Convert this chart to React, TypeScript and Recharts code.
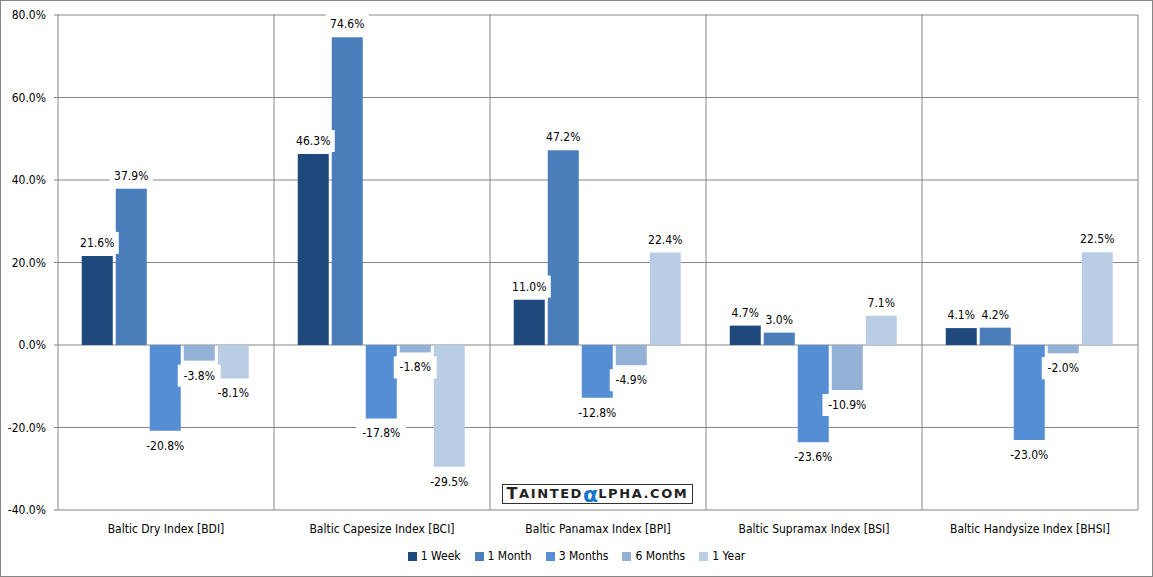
import React from 'react';
import { BarChart, Bar, XAxis, YAxis, CartesianGrid } from 'recharts';

const categories = [
  'Baltic Dry Index [BDI]',
  'Baltic Capesize Index [BCI]',
  'Baltic Panamax Index [BPI]',
  'Baltic Supramax Index [BSI]',
  'Baltic Handysize Index [BHSI]',
];
const week1 = [21.6, 46.3, 11.0, 4.7, 4.1];
const month1 = [37.9, 74.6, 47.2, 3.0, 4.2];
const months3 = [-20.8, -17.8, -12.8, -23.6, -23.0];
const months6 = [-3.8, -1.8, -4.9, -10.9, -2.0];
const year1 = [-8.1, -29.5, 22.4, 7.1, 22.5];
const yTicks = [-40, -20, 0, 20, 40, 60, 80];

const series = [
  { key: 'w1', name: '1 Week', color: '#1f497d', values: week1 },
  { key: 'm1', name: '1 Month', color: '#4a7ebb', values: month1 },
  { key: 'm3', name: '3 Months', color: '#558ed5', values: months3 },
  { key: 'm6', name: '6 Months', color: '#93b1d6', values: months6 },
  { key: 'y1', name: '1 Year', color: '#b9cde5', values: year1 },
];

const data = categories.map((c, i) => {
  const row: any = { name: c };
  series.forEach(s => { row[s.key] = s.values[i]; });
  return row;
});

const FONT = '"DejaVu Sans Condensed", "DejaVu Sans", Verdana, sans-serif';
const GRID = '#868686';

// label sits in a white box just above (or below) its bar
function ValueLabel(props: any) {
  const { x, y, width, height, value } = props;
  if (value === undefined || value === null) return null;
  const top = Math.min(y, y + height);
  const bottom = Math.max(y, y + height);
  const cx = x + width / 2;
  const cy = value >= 0 ? top - 13 : bottom + 15;
  const text = `${value.toFixed(1)}%`;
  const w = text.length * 6.6 + 10;
  return (
    <g>
      <rect x={cx - w / 2} y={cy - 11} width={w} height={22} fill="#fff" />
      <text x={cx} y={cy} textAnchor="middle" dominantBaseline="central"
        fontFamily={FONT} fontSize={12} fill="#000">{text}</text>
    </g>
  );
}

export default function App() {
  return (
    <div style={{ position: 'absolute', left: 0, top: 0, width: 1153, height: 577, background: '#fff' }}>
      <div style={{ position: 'absolute', inset: 0, border: `1px solid ${GRID}`, boxSizing: 'border-box' }} />
      <BarChart width={1153} height={577} data={data}
        margin={{ top: 15, right: 15, left: 0, bottom: 37 }}
        barCategoryGap="11%" barGap={3}>
        <CartesianGrid stroke={GRID} strokeWidth={1}
          verticalCoordinatesGenerator={({ offset }: any) =>
            categories.map((_, i) => offset.left + ((i + 1) * offset.width) / categories.length)} />
        <XAxis dataKey="name" height={30} axisLine={false} tickLine={false}
          tick={{ fontFamily: FONT, fontSize: 12, fill: '#000' }} tickMargin={8} interval={0} />
        <YAxis domain={[-40, 80]} ticks={yTicks} width={58} stroke={GRID} tickSize={4}
          tickFormatter={(v: number) => `${v.toFixed(1)}%`}
          tick={{ fontFamily: FONT, fontSize: 12, fill: '#000' }} tickMargin={8} />
        {series.map(s => (
          <Bar key={s.key} dataKey={s.key} name={s.name} fill={s.color}
            isAnimationActive={false} label={<ValueLabel />} />
        ))}
      </BarChart>
      {/* watermark */}
      <div style={{
        position: 'absolute', left: 502, top: 484, width: 191, height: 20,
        border: '1px solid #333', boxSizing: 'border-box', background: '#fff',
        display: 'flex', alignItems: 'center', justifyContent: 'center',
        fontFamily: '"DejaVu Sans", Verdana, sans-serif', fontWeight: 'bold',
        color: '#222', letterSpacing: 1.6, lineHeight: '16px', whiteSpace: 'nowrap',
      }}>
        <span style={{ fontSize: 16 }}>T</span>
        <span style={{ fontSize: 13 }}>AINTED</span>
        <span style={{ color: '#1577c6', fontSize: 22, fontWeight: 'bold', letterSpacing: 0, marginTop: 2 }}>α</span>
        <span style={{ fontSize: 13 }}>LPHA.COM</span>
      </div>
      <div style={{
        position: 'absolute', left: 0, width: 1153, top: 549, display: 'flex',
        justifyContent: 'center', boxSizing: 'border-box',
        fontFamily: FONT, fontSize: 12, color: '#000',
      }}>
        {series.map(s => (
          <div key={s.key} style={{ display: 'flex', alignItems: 'center', margin: '0 7px' }}>
            <span style={{ width: 9, height: 9, background: s.color, display: 'inline-block', marginRight: 4 }} />
            <span>{s.name}</span>
          </div>
        ))}
      </div>
    </div>
  );
}
